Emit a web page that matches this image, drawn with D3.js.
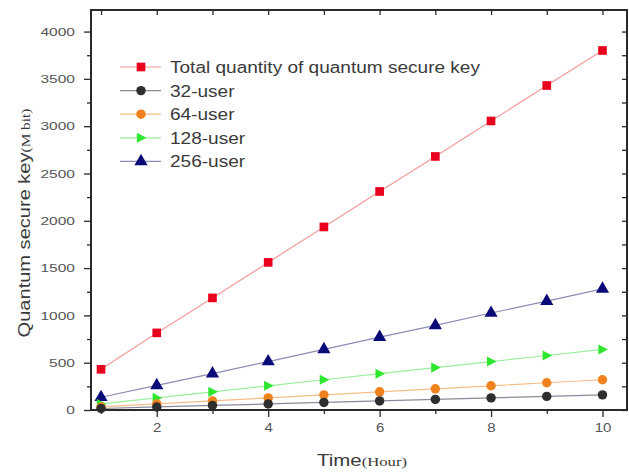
<!DOCTYPE html>
<html>
<head>
<meta charset="utf-8">
<script src="https://cdn.jsdelivr.net/npm/d3@7"></script>
<style>
  html, body { margin: 0; padding: 0; background: #fff; }
  svg { display: block; }
  text { font-family: "Liberation Sans", Arial, sans-serif; }
</style>
</head>
<body>
<svg id="chart" width="629" height="472"></svg>
<script>
// Hours on the x axis
const hours = [1, 2, 3, 4, 5, 6, 7, 8, 9, 10];

// Accumulated secure key (M bit) for each series
const totalKey = [430, 815, 1185, 1560, 1935, 2310, 2680, 3055, 3430, 3800];
const user32  = [16, 32, 48, 64, 80, 96, 112, 128, 144, 160];
const user64  = [32, 64, 96, 128, 160, 192, 224, 256, 288, 320];
const user128 = [64, 128, 192, 256, 320, 384, 448, 512, 576, 640];
const user256 = [135, 260, 385, 512, 640, 770, 895, 1025, 1150, 1280];

const seriesNames = ["Total quantity of quantum secure key", "32-user", "64-user", "128-user", "256-user"];

const xTicks = [2, 4, 6, 8, 10];
const yTicks = [0, 500, 1000, 1500, 2000, 2500, 3000, 3500, 4000];

const series = [
  { name: seriesNames[0], values: totalKey, color: "#e8001c", line: "#f39a9a", symbol: d3.symbolSquare, size: 75 },
  { name: seriesNames[1], values: user32,  color: "#2e2e2e", line: "#8a8a9a", symbol: d3.symbolCircle, size: 70 },
  { name: seriesNames[2], values: user64,  color: "#f0821e", line: "#f6bd86", symbol: d3.symbolCircle, size: 70 },
  { name: seriesNames[3], values: user128, color: "#2ee62e", line: "#9aee9a", symbol: "right", size: 70 },
  { name: seriesNames[4], values: user256, color: "#0a0a78", line: "#8c8cb4", symbol: d3.symbolTriangle, size: 75 }
];

const plotL = 91, plotR = 627, plotT = 10, plotB = 410;
const svg = d3.select("#chart");

const x = d3.scaleLinear().domain([0.82, 10.44]).range([plotL, plotR]);
const y = d3.scaleLinear().domain([0, 4228]).range([plotB, plotT]);

const axisColor = "#2a2a2a";
const labelColor = "#555";
const titleColor = "#3a3a3a";

// Right-pointing triangle symbol
const rightTriangle = {
  draw(ctx, size) {
    const s = Math.sqrt(size * 1.2);
    ctx.moveTo(s * 0.6, 0);
    ctx.lineTo(-s * 0.45, -s * 0.55);
    ctx.lineTo(-s * 0.45, s * 0.55);
    ctx.closePath();
  }
};
function symbolPath(s) {
  const type = s.symbol === "right" ? rightTriangle : s.symbol;
  return d3.symbol().type(type).size(s.size)();
}

// Series lines and markers
const lineGen = (vals) => d3.line().x((d, i) => x(hours[i])).y(d => y(d))(vals);
const plot = svg.append("g");
series.slice().reverse().forEach(s => {
  plot.append("path")
    .attr("d", lineGen(s.values))
    .attr("fill", "none")
    .attr("stroke", s.line)
    .attr("stroke-width", 1.2);
});
series.slice().reverse().forEach(s => {
  plot.selectAll(null).data(s.values).enter().append("path")
    .attr("d", symbolPath(s))
    .attr("transform", (d, i) => `translate(${x(hours[i])},${y(d)})`)
    .attr("fill", s.color);
});

// Bottom axis: majors with labels, minors at odd hours
const bottomAxis = svg.append("g").attr("transform", `translate(0,${plotB})`)
  .call(d3.axisBottom(x).tickValues(xTicks).tickSize(7).tickPadding(4).tickFormat(d3.format("d")));
svg.append("g").attr("transform", `translate(0,${plotB})`)
  .call(d3.axisBottom(x).tickValues([1, 3, 5, 7, 9]).tickSize(4).tickFormat(""));

// Left axis
const leftAxis = svg.append("g").attr("transform", `translate(${plotL},0)`)
  .call(d3.axisLeft(y).tickValues(yTicks).tickSize(7).tickPadding(4).tickFormat(d3.format("d")));
svg.append("g").attr("transform", `translate(${plotL},0)`)
  .call(d3.axisLeft(y).tickValues(d3.range(250, 4250, 500)).tickSize(4).tickFormat(""));

// Top and right axes: inward ticks, no labels
svg.append("g").attr("transform", `translate(0,${plotT})`)
  .call(d3.axisBottom(x).tickValues(hours).tickSize(5).tickFormat(""));
svg.append("g").attr("transform", `translate(${plotR},0)`)
  .call(d3.axisLeft(y).tickValues(d3.range(0, 4250, 250)).tickSize(5).tickFormat(""));

svg.selectAll(".domain").attr("stroke", "none");
svg.selectAll(".tick line").attr("stroke", axisColor).attr("stroke-width", 1.3);

// Frame
svg.append("rect")
  .attr("x", plotL).attr("y", plotT)
  .attr("width", plotR - plotL).attr("height", plotB - plotT)
  .attr("fill", "none").attr("stroke", axisColor).attr("stroke-width", 2);

// Tick labels, widened glyphs
bottomAxis.selectAll(".tick text")
  .attr("font-size", 12).attr("fill", labelColor)
  .attr("font-family", "Liberation Sans, Arial, sans-serif")
  .attr("transform", "scale(1.25,1)")
  .attr("x", 0).attr("y", 13);
leftAxis.selectAll(".tick text")
  .attr("font-size", 11.5).attr("fill", labelColor)
  .attr("font-family", "Liberation Sans, Arial, sans-serif")
  .attr("transform", "scale(1.35,1)")
  .attr("x", -16 / 1.35);

// Axis titles
svg.append("text")
  .attr("transform", "translate(362,466) scale(1.28,1)")
  .attr("text-anchor", "middle")
  .attr("fill", titleColor)
  .attr("font-size", 16)
  .call(t => {
    t.append("tspan").text("Time");
    t.append("tspan").attr("font-family", "Liberation Serif, Times New Roman, serif").attr("font-size", 13).text("(Hour)");
  });

const yTitle = svg.append("text")
  .attr("text-anchor", "middle")
  .attr("fill", titleColor)
  .attr("font-size", 17)
  .call(t => {
    t.append("tspan").text("Quantum secure key");
    t.append("tspan").attr("font-family", "Liberation Serif, Times New Roman, serif").attr("font-size", 13).text("(M bit)");
  });
// stretch the vertical title to its full span along the axis
const yTitleLen = yTitle.node().getComputedTextLength();
yTitle.attr("transform", `translate(30,223) rotate(-90) scale(${229 / yTitleLen},1)`);

// Legend
const legend = svg.append("g");
series.forEach((s, i) => {
  const ly = 67 + i * 23.6;
  legend.append("line")
    .attr("x1", 120).attr("x2", 161).attr("y1", ly).attr("y2", ly)
    .attr("stroke", s.line).attr("stroke-width", 1.2);
  legend.append("path")
    .attr("d", symbolPath(s))
    .attr("transform", `translate(141,${ly})`)
    .attr("fill", s.color);
  legend.append("text")
    .attr("transform", `translate(170,${ly + 6}) scale(1.19,1)`)
    .attr("font-size", 16)
    .attr("fill", titleColor)
    .text(s.name);
});
</script>
</body>
</html>
